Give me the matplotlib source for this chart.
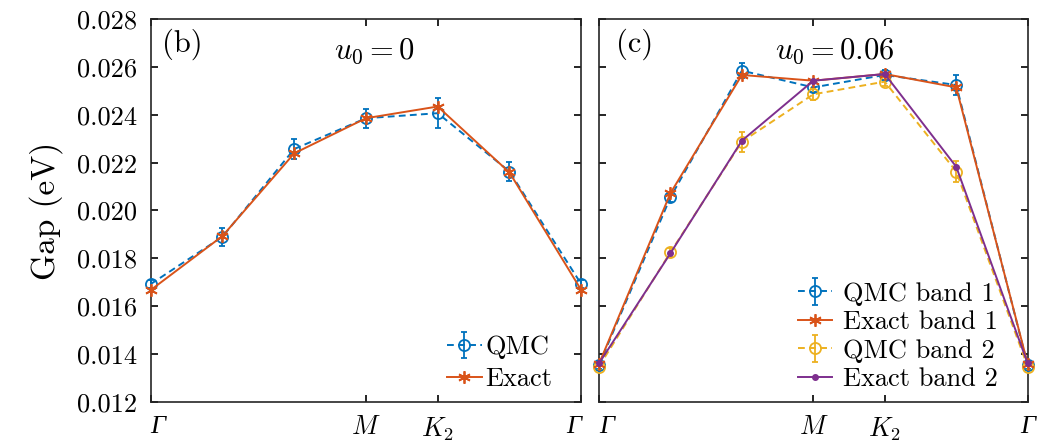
import matplotlib
matplotlib.use("Agg")
import matplotlib.pyplot as plt
import numpy as np

plt.rcParams['font.family'] = 'serif'
plt.rcParams['font.serif'] = ['cmr10', 'DejaVu Serif']
plt.rcParams['mathtext.fontset'] = 'cm'
plt.rcParams['axes.unicode_minus'] = False

# k-path
kpos = [0, 1, 2, 3, 4, 5, 6]
tick_pos = [0, 3, 4, 6]
tick_labels = ['Γ', r'$M$', r'$K_2$', 'Γ']

# Panel (b): u0 = 0
qmc_b = [0.01692, 0.01890, 0.02257, 0.02386, 0.02407, 0.02163, 0.01692]
qmc_b_err = [0.00018, 0.00038, 0.00040, 0.00040, 0.00063, 0.00038, 0.00018]
exact_b = [0.01667, 0.01893, 0.02239, 0.02386, 0.02435, 0.02159, 0.01667]

# Panel (c): u0 = 0.06
qmc_c1 = [0.01353, 0.02055, 0.02585, 0.02515, 0.02567, 0.02525, 0.01353]
qmc_c1_err = [0.00015, 0.00020, 0.00030, 0.00020, 0.00020, 0.00040, 0.00015]
exact_c1 = [0.01358, 0.02072, 0.02567, 0.02543, 0.02571, 0.02515, 0.01358]
qmc_c2 = [0.01347, 0.01825, 0.02288, 0.02486, 0.02539, 0.02163, 0.01347]
qmc_c2_err = [0.00015, 0.00020, 0.00042, 0.00025, 0.00020, 0.00042, 0.00015]
exact_c2 = [0.01360, 0.01821, 0.02292, 0.02543, 0.02571, 0.02183, 0.01360]

yticks = [0.012, 0.014, 0.016, 0.018, 0.020, 0.022, 0.024, 0.026, 0.028]

BLUE = '#0072BD'
ORANGE = '#D95319'
YELLOW = '#EDB120'
PURPLE = '#7E2F8E'

fig = plt.figure(figsize=(10.37, 4.42), dpi=100)
axb = fig.add_axes([0.1453, 0.0912, 0.4152, 0.8652])
axc = fig.add_axes([0.5776, 0.0912, 0.4134, 0.8652])

FS = 19
lw = 1.4
dash = (0, (3.5, 2.2))
ast = (6, 2, 0)

def qmc(ax, y, err, color, label):
    return ax.errorbar(kpos, y, yerr=err, color=color, linestyle=dash, lw=lw,
                       marker='o', markersize=8, markerfacecolor='none',
                       markeredgewidth=1.3, capsize=2.5, elinewidth=1.3,
                       capthick=1.3, label=label, clip_on=False, zorder=3)

# (b)
hb1 = qmc(axb, qmc_b, qmc_b_err, BLUE, 'QMC')
hb2, = axb.plot(kpos, exact_b, color=ORANGE, lw=lw, marker=ast, markersize=9,
                markeredgewidth=1.3, label='Exact', clip_on=False, zorder=4)

# (c)
hc1 = qmc(axc, qmc_c1, qmc_c1_err, BLUE, 'QMC band 1')
hc2, = axc.plot(kpos, exact_c1, color=ORANGE, lw=lw, marker=ast, markersize=9,
                markeredgewidth=1.3, label='Exact band 1', clip_on=False, zorder=4)
hc3 = qmc(axc, qmc_c2, qmc_c2_err, YELLOW, 'QMC band 2')
hc4, = axc.plot(kpos, exact_c2, color=PURPLE, lw=lw, marker='o', markersize=4,
                label='Exact band 2', clip_on=False, zorder=5)

gamma_align = {axb: ['left', None, None, 'right'],
               axc: ['left', None, None, 'center']}

for ax in (axb, axc):
    ax.set_xlim(0, 6)
    ax.set_ylim(0.012, 0.028)
    ax.set_xticks(tick_pos)
    ax.set_xticklabels(tick_labels, fontsize=FS)
    for t, ha in zip(ax.get_xticklabels(), gamma_align[ax]):
        if t.get_text() == 'Γ':
            t.set_fontfamily('Liberation Serif')
            t.set_fontstyle('italic')
            t.set_fontsize(FS + 1)
            t.set_horizontalalignment(ha)
    ax.set_yticks(yticks)
    ax.tick_params(direction='in', length=5, width=1.2, top=True, right=True,
                   labelsize=FS)
    ax.tick_params(axis='x', pad=10)
    ax.tick_params(axis='y', pad=10)
    for s in ax.spines.values():
        s.set_linewidth(1.2)
        s.set_color('#262626')

axb.set_yticklabels(['%.3f' % v for v in yticks])
axc.set_yticklabels([])
axb.set_ylabel('Gap (eV)', fontsize=24, labelpad=10)

axb.text(0.027, 0.975, '(b)', transform=axb.transAxes, fontsize=22,
         va='top', ha='left')
axb.text(0.52, 0.955, r'$u_0=0$', transform=axb.transAxes, fontsize=22,
         va='top', ha='center')
axc.text(0.04, 0.975, '(c)', transform=axc.transAxes, fontsize=22,
         va='top', ha='left')
axc.text(0.55, 0.955, r'$u_0=0.06$', transform=axc.transAxes, fontsize=22,
         va='top', ha='center')

axb.legend([hb1, hb2], ['QMC', 'Exact'], loc='lower right', frameon=False,
           fontsize=FS, handlelength=1.3, handletextpad=0.15, labelspacing=0.3,
           borderaxespad=0.0, bbox_to_anchor=(0.958, 0.0))
axc.legend([hc1, hc2, hc3, hc4], ['QMC band 1', 'Exact band 1', 'QMC band 2', 'Exact band 2'],
           loc='lower right', frameon=False, fontsize=FS, handlelength=1.3,
           handletextpad=0.4, labelspacing=0.18, borderaxespad=0.0,
           bbox_to_anchor=(0.955, 0.0))

fig.savefig('out.png', dpi=100)
